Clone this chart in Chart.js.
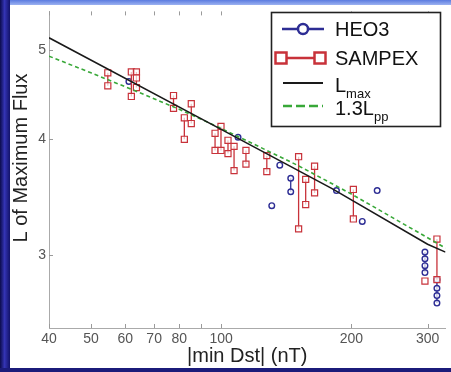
<!DOCTYPE html>
<html>
<head>
<meta charset="utf-8">
<script src="https://cdn.jsdelivr.net/npm/chart.js@4"></script>
<style>
  html, body { margin: 0; padding: 0; background: #fff; }
  #wrap { width: 451px; height: 372px; position: relative; }
</style>
</head>
<body>
<div id="wrap"><canvas id="chart" width="451" height="372"></canvas></div>
<script>
// |min Dst| of each storm (nT) and the L values measured for it
const sampexDst = [54.7, 62.0, 63.7, 77.6, 82.2, 85.3, 96.8, 99.9, 103.7, 107.1, 114.1, 127.5, 151.0, 156.8, 164.4, 202.1, 295.8, 315.3];
const sampexL = [
  [4.72, 4.57], [4.73, 4.45], [4.73, 4.66, 4.55], [4.46, 4.32], [4.22, 4.00], [4.37, 4.16],
  [4.06, 3.89], [4.13, 3.89], [3.99, 3.86], [3.93, 3.70], [3.89, 3.76], [3.84, 3.69],
  [3.83, 3.20], [3.62, 3.40], [3.74, 3.50], [3.53, 3.28], [2.81], [3.12, 2.82]
];
const heoDst = [61.2, 109.4, 130.9, 136.6, 144.8, 184.7, 211.9, 229.4, 295.8, 315.3];
const heoL = [
  [4.62], [4.02], [3.39], [3.75], [3.63, 3.51], [3.52], [3.26], [3.52],
  [3.02, 2.97, 2.92, 2.87], [2.82, 2.76, 2.71, 2.66]
];

// the two curves
const lmaxDst = [40, 100, 180, 300, 330];
const lmaxL = [5.15, 4.10, 3.54, 3.08, 3.02];
const lppDst = [40, 50, 60, 80, 100, 150, 200, 300, 330];
const lppL = [4.92, 4.72, 4.56, 4.31, 4.11, 3.75, 3.49, 3.13, 3.05];

const xTicks = [40, 50, 60, 70, 80, 90, 100, 200, 300];
const xLabels = [40, 50, 60, 70, 80, 100, 200, 300];
const yTicks = [3, 4, 5];

const FONT = "'Liberation Sans', Arial, Helvetica, sans-serif";
Chart.defaults.font.family = FONT;

function groupPoints(dsts, groups) {
  const pts = [];
  dsts.forEach((d, i) => {
    for (const l of groups[i]) pts.push({ x: d, y: l });
    pts.push({ x: d, y: null }); // break the line between storms
  });
  return pts;
}

function linePoints(xs, ys) {
  return xs.map((x, i) => ({ x: x, y: ys[i] }));
}

const framePlugin = {
  id: 'frame',
  beforeDraw(chart) {
    const ctx = chart.ctx;
    ctx.save();
    ctx.fillStyle = '#ffffff';
    ctx.fillRect(0, 0, chart.width, chart.height);
    ctx.restore();
  },
  afterDraw(chart) {
    const ctx = chart.ctx;
    const a = chart.chartArea;
    const x = chart.scales.x, y = chart.scales.y;
    ctx.save();

    // inward tick marks, matlab style
    ctx.strokeStyle = '#9a9a9a';
    ctx.lineWidth = 1;
    ctx.beginPath();
    for (const v of xTicks) {
      const px = Math.round(x.getPixelForValue(v)) + 0.5;
      ctx.moveTo(px, a.bottom); ctx.lineTo(px, a.bottom - 4);
      ctx.moveTo(px, a.top); ctx.lineTo(px, a.top + 4);
    }
    for (const v of yTicks) {
      const py = Math.round(y.getPixelForValue(v)) + 0.5;
      ctx.moveTo(a.left, py); ctx.lineTo(a.left + 4, py);
    }
    ctx.stroke();

    // y title
    ctx.save();
    ctx.translate(21, 158);
    ctx.rotate(-Math.PI / 2);
    ctx.fillStyle = '#222';
    ctx.font = '20px ' + FONT;
    ctx.textAlign = 'center';
    ctx.textBaseline = 'middle';
    ctx.fillText('L of Maximum Flux', 0, 0);
    ctx.restore();

    // legend
    ctx.fillStyle = '#fff';
    ctx.fillRect(271, 12, 170, 115);
    ctx.strokeStyle = '#222';
    ctx.lineWidth = 1.6;
    ctx.strokeRect(271.5, 12.5, 169, 114);

    // HEO3
    ctx.strokeStyle = '#2d2d94';
    ctx.lineWidth = 2.5;
    ctx.beginPath(); ctx.moveTo(282, 29); ctx.lineTo(324, 29); ctx.stroke();
    ctx.beginPath(); ctx.arc(303, 29, 5, 0, Math.PI * 2);
    ctx.fillStyle = '#fff'; ctx.fill(); ctx.stroke();
    // SAMPEX
    ctx.strokeStyle = '#c8323a';
    ctx.beginPath(); ctx.moveTo(281, 58); ctx.lineTo(320, 58); ctx.stroke();
    for (const cx of [281, 320]) {
      ctx.fillRect(cx - 5.5, 52.5, 11, 11);
      ctx.strokeRect(cx - 5.5, 52.5, 11, 11);
    }
    // Lmax
    ctx.strokeStyle = '#1a1a1a';
    ctx.lineWidth = 2;
    ctx.beginPath(); ctx.moveTo(283, 83); ctx.lineTo(323, 83); ctx.stroke();
    // 1.3Lpp
    ctx.strokeStyle = '#38a838';
    ctx.lineWidth = 2.5;
    ctx.setLineDash([9, 4]);
    ctx.beginPath(); ctx.moveTo(283, 106); ctx.lineTo(323, 106); ctx.stroke();
    ctx.setLineDash([]);

    ctx.fillStyle = '#111';
    ctx.textAlign = 'left';
    ctx.textBaseline = 'alphabetic';
    ctx.font = '20px ' + FONT;
    ctx.fillText('HEO3', 335, 36);
    ctx.fillText('SAMPEX', 335, 65);
    ctx.fillText('L', 335, 92);
    let w = ctx.measureText('L').width;
    ctx.fillText('1.3L', 335, 115);
    let w2 = ctx.measureText('1.3L').width;
    ctx.font = '13px ' + FONT;
    ctx.fillText('max', 335 + w, 98);
    ctx.fillText('pp', 335 + w2, 121);

    // blue frame round the figure
    let g = ctx.createLinearGradient(0, 0, 0, 6);
    g.addColorStop(0, '#5b7be0');
    g.addColorStop(1, '#a9bdf4');
    ctx.fillStyle = g;
    ctx.fillRect(0, 0, chart.width, 5);
    g = ctx.createLinearGradient(0, 0, 10, 0);
    g.addColorStop(0, '#0b0b4c');
    g.addColorStop(0.45, '#3434b4');
    g.addColorStop(1, '#12126a');
    ctx.fillStyle = g;
    ctx.fillRect(0, 0, 10, chart.height);
    ctx.fillStyle = '#1b1b7a';
    ctx.fillRect(0, 368, chart.width, 4);

    ctx.restore();
  }
};

new Chart(document.getElementById('chart'), {
  type: 'scatter',
  data: {
    datasets: [
      {
        label: 'Lmax',
        data: linePoints(lmaxDst, lmaxL),
        showLine: true,
        borderColor: '#1a1a1a',
        borderWidth: 1.6,
        pointRadius: 0,
        order: 0
      },
      {
        label: '1.3Lpp',
        data: linePoints(lppDst, lppL),
        showLine: true,
        borderColor: '#38a838',
        borderWidth: 1.6,
        borderDash: [4, 3],
        pointRadius: 0,
        order: 0
      },
      {
        label: 'SAMPEX',
        data: groupPoints(sampexDst, sampexL),
        showLine: true,
        spanGaps: false,
        borderColor: '#c8323a',
        borderWidth: 1.3,
        pointStyle: 'rect',
        pointRadius: 4.3,
        pointBorderWidth: 1.2,
        pointBorderColor: '#c8323a',
        pointBackgroundColor: 'rgba(255,255,255,0.7)',
        order: 1
      },
      {
        label: 'HEO3',
        data: groupPoints(heoDst, heoL),
        showLine: true,
        spanGaps: false,
        borderColor: '#2d2d94',
        borderWidth: 1.3,
        pointStyle: 'circle',
        pointRadius: 2.8,
        pointBorderWidth: 1.4,
        pointBorderColor: '#2d2d94',
        pointBackgroundColor: 'rgba(255,255,255,0.7)',
        order: 2
      }
    ]
  },
  options: {
    responsive: false,
    animation: false,
    layout: { padding: { left: 0, top: 5, right: 3, bottom: 0 } },
    plugins: { legend: { display: false }, tooltip: { enabled: false } },
    scales: {
      x: {
        type: 'logarithmic',
        min: 40,
        max: 330,
        afterBuildTicks: s => { s.ticks = xTicks.map(v => ({ value: v })); },
        afterFit: s => { s.height = 44; },
        grid: { display: false, drawTicks: false },
        border: { display: true, color: '#aaaaaa', width: 1 },
        ticks: {
          autoSkip: false,
          maxRotation: 0,
          padding: 3,
          color: '#555',
          font: { size: 14 },
          callback: v => xLabels.includes(v) ? String(v) : ''
        },
        title: {
          display: true,
          text: '|min Dst| (nT)',
          color: '#222',
          font: { size: 20 },
          padding: { top: 0, bottom: 4 }
        }
      },
      y: {
        type: 'logarithmic',
        min: 2.5,
        max: 5.5,
        afterBuildTicks: s => { s.ticks = yTicks.map(v => ({ value: v })); },
        afterFit: s => { s.width = 49; },
        grid: { display: false, drawTicks: false },
        border: { display: true, color: '#aaaaaa', width: 1 },
        ticks: {
          padding: 3,
          color: '#555',
          font: { size: 14 },
          callback: v => String(v)
        }
      }
    }
  },
  plugins: [framePlugin]
});
</script>
</body>
</html>
